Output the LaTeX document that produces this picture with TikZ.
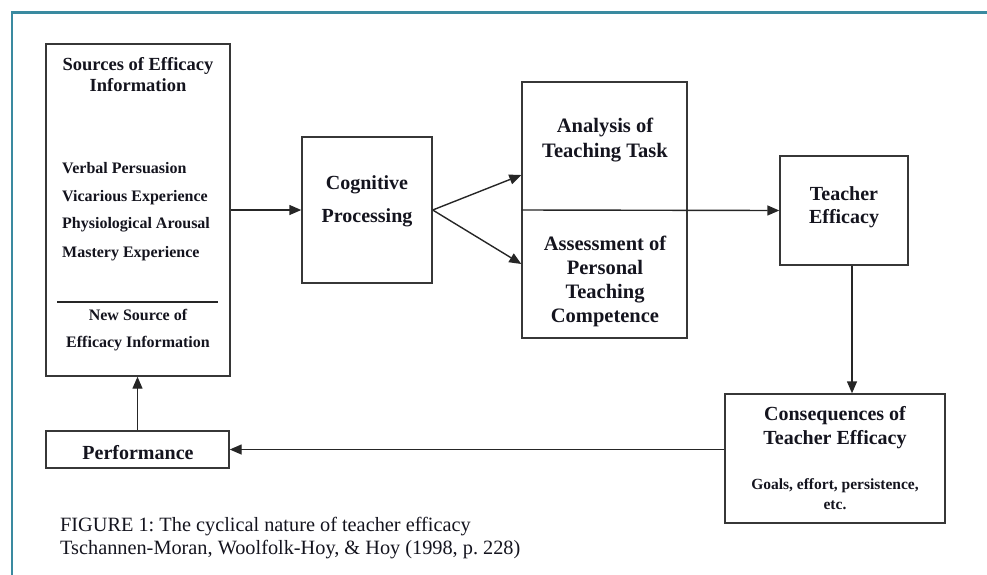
\documentclass[tikz,border=0pt]{standalone}
\usepackage{fontspec}
\setmainfont{Liberation Serif}
\usetikzlibrary{arrows.meta}
\definecolor{frameteal}{RGB}{58,138,160}
\definecolor{ink}{RGB}{20,20,30}
\definecolor{edge}{RGB}{55,55,55}
\frenchspacing
\begin{document}
\begin{tikzpicture}[x=1pt,y=-1pt,
  box/.style={draw=edge, line width=1.4pt, inner sep=0pt},
  head/.style={font=\bfseries\fontsize{20}{21}\selectfont, text=ink, align=center, inner sep=0pt},
  item/.style={font=\bfseries\fontsize{16}{16}\selectfont, text=ink, inner sep=0pt, anchor=west},
  small/.style={font=\bfseries\fontsize{15.5}{20}\selectfont, text=ink, align=center, inner sep=0pt},
  captxt/.style={font=\fontsize{20.3}{23}\selectfont, text=ink, align=left, inner sep=0pt, anchor=west},
  link/.style={draw=black!85, line width=1.4pt},
  arr/.style={link, -{Triangle[length=12pt,width=10pt]}}
]
\useasboundingbox (0,0) rectangle (987,574);

% page frame
\draw[frameteal, line width=2.6pt] (12,575) -- (12,12.5) -- (988,12.5);

% boxes
\node[box, minimum width=184pt, minimum height=332pt] (src) at (138,210) {};
\node[box, minimum width=130pt, minimum height=146pt] (cog) at (367,210) {};
\node[box, minimum width=165pt, minimum height=256pt] (ana) at (604.5,210) {};
\node[box, minimum width=128pt, minimum height=109pt] (teff) at (844,210.5) {};
\node[box, minimum width=220pt, minimum height=129pt] (cons) at (835,458.5) {};
\node[box, minimum width=183pt, minimum height=37pt] (perf) at (137.5,449.5) {};

% sources of efficacy information
\node[head, font=\bfseries\fontsize{18.5}{21}\selectfont] (srct) at (138,74.5) {Sources of Efficacy\\Information};
\node[item] (i1) at (62,168) {Verbal Persuasion};
\node[item] (i2) at (62,197.5) {Vicarious Experience};
\node[item] (i3) at (62,225) {Physiological Arousal};
\node[item] (i4) at (62,253.5) {Mastery Experience};
\draw[link, line width=1.1pt] (57,302) coordinate (sepl) -- (218,302) coordinate (sepr);
\node[small, font=\bfseries\fontsize{16}{27}\selectfont] (newsrc) at (138,330) {New Source of\\Efficacy Information};

% remaining box texts
\node[head, font=\bfseries\fontsize{20}{33}\selectfont] (cogt) at (367,201) {Cognitive\\Processing};
\node[head, font=\bfseries\fontsize{20.5}{25}\selectfont] (anat) at (605,140) {Analysis of\\Teaching Task};
\node[head, font=\bfseries\fontsize{20.5}{24}\selectfont] (asst) at (605,281) {Assessment of\\Personal\\Teaching\\Competence};
\node[head, font=\bfseries\fontsize{20}{23}\selectfont] (tefft) at (844,207) {Teacher\\Efficacy};
\node[head, font=\bfseries\fontsize{20}{24}\selectfont] (const) at (835,428) {Consequences of\\Teacher Efficacy};
\node[small] (goals) at (835,494) {Goals, effort, persistence,\\etc.};
\node[head, font=\bfseries\fontsize{20}{20}\selectfont] (perft) at (138,453) {Performance};

% caption
\node[captxt] (cap1) at (60,527) {FIGURE 1: The cyclical nature of teacher efficacy};
\node[captxt] (cap2) at (60,550) {Tschannen-Moran, Woolfolk-Hoy, \& Hoy (1998, p. 228)};

% connectors
\draw[arr] (src.east) -- (cog.west);
\draw[arr] (cog.east) -- ([yshift=35pt]ana.west);
\draw[arr] (cog.east) -- ([yshift=-54pt]ana.west);
\draw[arr] (ana.west) -- (teff.west);
\draw[arr] ([xshift=8pt]teff.south) -- ([xshift=8pt]teff.south |- cons.north);
\draw[arr] (cons.west |- perf.east) -- (perf.east);
\draw[arr] (perf.north) -- (perf.north |- src.south);
\end{tikzpicture}
\end{document}
